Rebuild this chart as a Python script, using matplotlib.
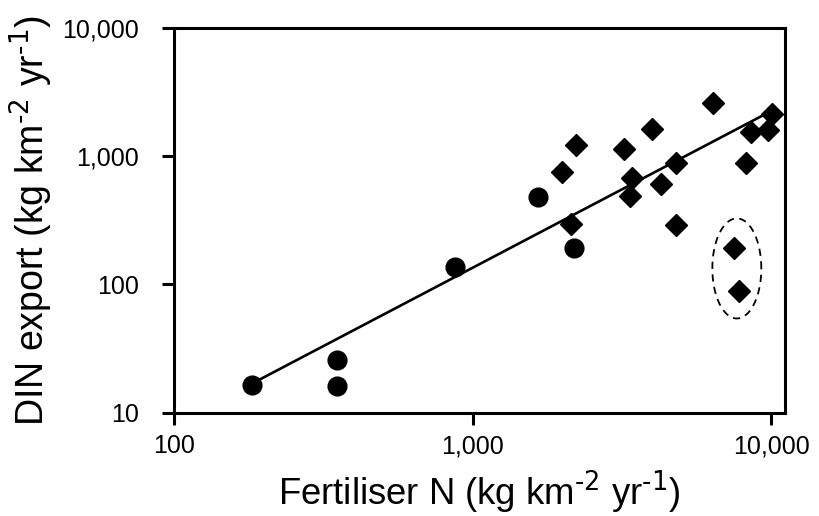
import numpy as np
import matplotlib.pyplot as plt

plt.rcParams['font.family'] = ['Liberation Sans', 'DejaVu Sans']

# circles
circle_fert = [182, 352, 352, 869, 1652, 2188]
circle_din = [16.6, 25.6, 16.3, 137, 480, 194]

# diamonds
diamond_fert = [1986, 2208, 2138, 3214, 3405, 3357, 3990, 4266, 4808, 4808,
                6355, 7480, 7780, 8240, 8570, 9750, 10070]
diamond_din = [759, 1230, 298, 1137, 674, 486, 1627, 609, 881, 293,
               2588, 191, 89.5, 887, 1530, 1600, 2128]

# fitted power law: log10(y) = intercept + slope * log10(x)
fit_slope = 1.222
fit_intercept = -1.535
fit_range = [182, 10000]

# dashed ellipse around the two outliers (centre and half-widths in log10 units)
outlier_center = (3.884, 2.125)
outlier_radius = (0.082, 0.39)

fig = plt.figure(figsize=(8.19, 5.16), dpi=100)
ax = fig.add_axes([0.2125, 0.200, 0.746, 0.746])

fx = np.array(fit_range, dtype=float)
ax.plot(fx, 10 ** (fit_intercept + fit_slope * np.log10(fx)), color='black', linewidth=1.9, zorder=2)

ax.plot(circle_fert, circle_din, 'o', color='black', markersize=13.5, zorder=3)
ax.plot(diamond_fert, diamond_din, 'D', color='black', markersize=11.5, zorder=3)

t = np.linspace(0, 2 * np.pi, 200)
ex = 10 ** (outlier_center[0] + outlier_radius[0] * np.cos(t))
ey = 10 ** (outlier_center[1] + outlier_radius[1] * np.sin(t))
ax.plot(ex, ey, color='black', linestyle=(0, (4, 3)), linewidth=1.3)

ax.set_xscale('log')
ax.set_yscale('log')
ax.set_xlim(100, 11100)
ax.set_ylim(10, 10000)
ax.set_xticks([100, 1000, 10000])
ax.set_xticklabels(['100', '1,000', '10,000'])
ax.set_yticks([10, 100, 1000, 10000])
ax.set_yticklabels(['10', '100', '1,000', '10,000'])
ax.minorticks_off()
ax.tick_params(direction='out', length=8.5, width=2.2, labelsize=18)
ax.tick_params(axis='x', pad=7)
ax.tick_params(axis='y', pad=17)
for s in ax.spines.values():
    s.set_linewidth(2.2)

ax.set_xlabel(r'Fertiliser N (kg km$^{\text{-2}}$ yr$^{\text{-1}}$)', fontsize=26.3, labelpad=7.5)
ax.set_ylabel(r'DIN export (kg km$^{\text{-2}}$ yr$^{\text{-1}}$)', fontsize=27, labelpad=5)

fig.savefig('out.png', dpi=100)
